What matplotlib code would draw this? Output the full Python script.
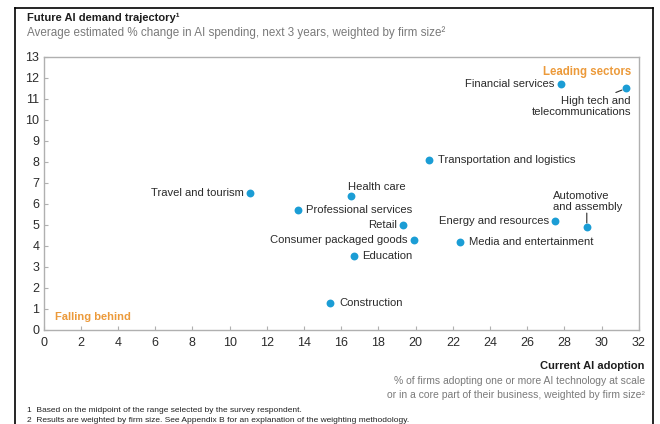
import matplotlib
matplotlib.use("Agg")
import matplotlib.pyplot as plt
from matplotlib.lines import Line2D

plt.rcParams["font.family"] = ["Liberation Sans", "DejaVu Sans"]

# ---------------------------------------------
# Data: AI adoption vs. expected spending change
# ---------------------------------------------
sectors = [
    "Financial services",
    "High tech and\ntelecommunications",
    "Transportation and logistics",
    "Travel and tourism",
    "Health care",
    "Professional services",
    "Retail",
    "Consumer packaged goods",
    "Education",
    "Construction",
    "Energy and resources",
    "Automotive\nand assembly",
    "Media and entertainment",
]
adoption = [27.8, 31.3, 20.7, 11.1, 16.5, 13.7, 19.3, 19.9, 16.7, 15.4, 27.5, 29.2, 22.4]
demand_growth = [11.7, 11.5, 8.1, 6.5, 6.4, 5.7, 5.0, 4.3, 3.5, 1.3, 5.2, 4.9, 4.2]

x_ticks = list(range(0, 33, 2))
y_ticks = list(range(0, 14))

# label placement: (dx px, dy px, ha, va, leader)
placement = {
    "Financial services": (-6, 0, "right", "center", None),
    "High tech and\ntelecommunications": (5, -8, "right", "top", (-10, -4)),
    "Transportation and logistics": (9, 0, "left", "center", None),
    "Travel and tourism": (-6, 0, "right", "center", None),
    "Health care": (-3, 4, "left", "bottom", None),
    "Professional services": (8, 0, "left", "center", None),
    "Retail": (-6, 0, "right", "center", None),
    "Consumer packaged goods": (-6, 0, "right", "center", None),
    "Education": (8, 0, "left", "center", None),
    "Construction": (9, 0, "left", "center", None),
    "Energy and resources": (-6, 0, "right", "center", None),
    "Automotive\nand assembly": (-34, 15, "left", "bottom", (0, 14)),
    "Media and entertainment": (9, 0, "left", "center", None),
}

dot_color = "#1b9dd5"
text_color = "#2b2b2b"
grey_text = "#7a7a7a"
orange = "#ec9a3a"
spine_color = "#b0b0b0"

fig = plt.figure(figsize=(6.6, 4.24), dpi=100)
ax = fig.add_axes([0.066, 0.2217, 0.902, 0.6439])

ax.scatter(adoption, demand_growth, s=32, color=dot_color, zorder=3, linewidths=0)

for name, x, y in zip(sectors, adoption, demand_growth):
    dx, dy, ha, va, leader = placement[name]
    ax.annotate(name, (x, y), xytext=(dx, dy), textcoords="offset pixels",
                ha=ha, va=va, fontsize=8.1, color=text_color, linespacing=1.1)
    if leader is not None:
        ax.annotate("", (x, y), xytext=leader, textcoords="offset pixels",
                    arrowprops=dict(arrowstyle="-", color=text_color, lw=0.8,
                                    shrinkA=0, shrinkB=3))

ax.set_xlim(0, 32)
ax.set_ylim(0, 13)
ax.set_xticks(x_ticks)
ax.set_yticks(y_ticks)
ax.tick_params(direction="in", length=3, color=spine_color, labelsize=9,
               labelcolor=text_color)
ax.tick_params(axis="x", pad=5)
ax.tick_params(axis="y", pad=3)
for s in ax.spines.values():
    s.set_color(spine_color)
    s.set_linewidth(1.0)

ax.text(0.988, 0.945, "Leading sectors", transform=ax.transAxes, ha="right",
        va="center", fontsize=8.3, fontweight="bold", color=orange)
ax.text(0.019, 0.048, "Falling behind", transform=ax.transAxes, ha="left",
        va="center", fontsize=8, fontweight="bold", color=orange)

# titles
fig.text(0.041, 0.958, "Future AI demand trajectory¹", fontsize=8,
         fontweight="bold", color="#1e1e1e", va="center")
fig.text(0.041, 0.923, "Average estimated % change in AI spending, next 3 years, weighted by firm size²",
         fontsize=8.4, color=grey_text, va="center")

# x-axis description
fig.text(0.977, 0.137, "Current AI adoption", fontsize=8, fontweight="bold",
         color="#1e1e1e", ha="right", va="center")
fig.text(0.977, 0.1014, "% of firms adopting one or more AI technology at scale",
         fontsize=7.5, color=grey_text, ha="right", va="center")
fig.text(0.977, 0.0684, "or in a core part of their business, weighted by firm size²",
         fontsize=7.5, color=grey_text, ha="right", va="center")

# footnotes
fig.text(0.041, 0.0307, "1  Based on the midpoint of the range selected by the survey respondent.",
         fontsize=6, color="#222222", va="center")
fig.text(0.041, 0.0071, "2  Results are weighted by firm size. See Appendix B for an explanation of the weighting methodology.",
         fontsize=6, color="#222222", va="center")

# outer frame
frame_kw = dict(color="black", lw=1.2, transform=fig.transFigure)
fig.add_artist(Line2D([0.0227, 0.0227], [0.0, 0.982], **frame_kw))
fig.add_artist(Line2D([0.9894, 0.9894], [0.0, 0.982], **frame_kw))
fig.add_artist(Line2D([0.0227, 0.9894], [0.982, 0.982], **frame_kw))

fig.savefig("out.png", dpi=100)
